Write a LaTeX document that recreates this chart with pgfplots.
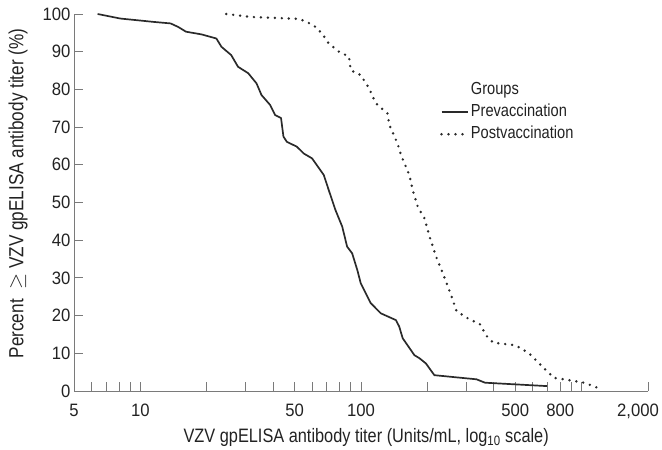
\documentclass[border=0pt]{standalone}
\usepackage{fontspec}
\setmainfont{Liberation Sans}[FakeStretch=0.84]
\newfontfamily\tickfont{Liberation Sans}[FakeStretch=0.93]
\usepackage{pgfplots}
\pgfplotsset{compat=1.18}
\definecolor{axgray}{HTML}{7A7A7A}
\definecolor{txt}{HTML}{222222}
\definecolor{crv}{HTML}{2A2A2A}
\begin{document}
\begin{tikzpicture}
\begin{axis}[
  scale only axis, width=574bp, height=377bp,
  xmode=log, xmin=5, xmax=2000, ymin=0, ymax=100,
  axis lines*=left,
  axis line style={axgray, line width=0.9pt},
  xtick={6,7,8,9,10,20,30,40,50,60,70,80,90,100,200,300,400,500,600,700,800,900,1000,2000},
  xticklabel={\relax},
  extra x ticks={5,10,50,100,500,800,2000},
  extra x tick labels={5,10,50,100,500,800,{\makebox[0pt][c]{\hspace*{-20bp}2,000}}},
  extra x tick style={major tick length=0pt, xticklabel style={anchor=base, yshift=-25bp}},
  minor x tick num=0,
  ytick={0,10,...,100},
  major tick length=9bp,
  tick style={axgray, line width=0.9pt},
  tick align=inside,
  /pgf/number format/assume math mode=true,
  tick label style={font=\tickfont\fontsize{18}{20}\selectfont, text=txt},
  label style={font=\fontsize{19.5}{22}\selectfont, text=txt},
  xlabel={VZV gpELISA antibody titer (Units/mL, log\textsubscript{10} scale)},
  ylabel={Percent\ \ $\geq$ VZV gpELISA antibody titer (\%)},
  xlabel style={at={(axis description cs:0.509,-0.1353)}, anchor=base},
  ylabel style={at={(axis description cs:-0.088,0.524)}, anchor=base, font=\fontsize{20.5}{23}\selectfont},
  clip=false,
  legend style={draw=none, fill=none, at={(rel axis cs:0.6376,0.8276)}, anchor=north west,
    font=\fontsize{17.5}{20}\selectfont, text=txt, row sep=1.3bp, inner sep=0pt,
    nodes={text height=13bp, text depth=4bp, inner sep=2bp},
    cells={anchor=west}},
  legend image code/.code={\draw[#1] (0bp,0bp) -- (26bp,0bp);},
]
\addlegendimage{empty legend}
\addlegendentry{Groups}
\addplot[crv, line width=1.7pt, line join=round] coordinates {
(6.4,100) (8.1,98.8) (11.5,97.9) (13.7,97.5) (14.8,96.6) (16.1,95.3) (18.9,94.6)
(22.1,93.5) (23.3,91.3) (25.8,89.1) (27.7,86) (30.8,84.3) (33.6,81.6) (35.4,78.5)
(38.7,75.9) (40.8,73.2) (43.4,72.4) (44.5,67.5) (46.1,66.1) (51.2,64.8) (55,63)
(60,61.7) (67.8,57.3) (71.4,53.3) (76.6,48) (82.2,43.6) (86.5,38.3) (91.2,36.5)
(96.2,32.1) (99.7,28.6) (110.7,23.3) (123,20.6) (144,18.8) (149,17.1) (154.5,14)
(174.6,9.5) (184,8.7) (197,7.3) (215,4.2) (252,3.8) (334,3.1) (365,2.2) (697,1.3)
};
\addlegendentry{Prevaccination}
\addplot[crv, line width=2.7pt, line cap=round, dash pattern=on 0pt off 7pt] coordinates {
(24.5,100) (31.9,99.2) (52.1,98.7) (56.9,97.9) (62.1,96.6) (66.6,94.8) (71.4,92.2)
(79.4,90) (88.2,88.7) (89.8,85.1) (99.7,83.8) (108.8,80.3) (116.8,76.3) (131.9,73.6)
(134.4,70.6) (146.5,65.6) (151.8,62.6) (165.6,57.3) (171.5,53.3) (180.8,48.9)
(194,45.8) (204.6,40.9) (219,35.6) (235,31.2) (257,25.2) (271,21.2) (300,19.5)
(346,17.7) (371,14.6) (398,12.8) (491,12.2) (526,11.5) (585,9.7) (685,5.7)
(748,3.5) (830,3.1) (1026,2.2) (1200,0.7)
};
\addlegendentry{Postvaccination}
\end{axis}
\pgfresetboundingbox
\path[use as bounding box] ([shift={(-74bp,-59bp)}]current axis.south west) rectangle ([shift={(14bp,14bp)}]current axis.north east);
\end{tikzpicture}
\end{document}
